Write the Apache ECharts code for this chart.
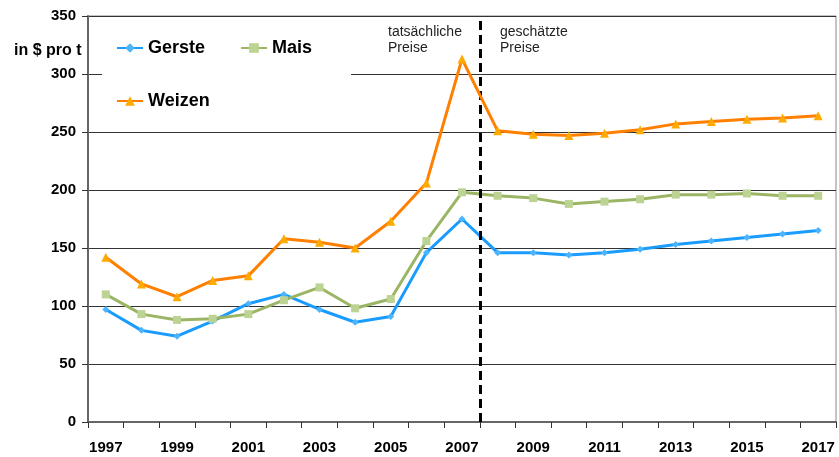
<!DOCTYPE html>
<html>
<head>
<meta charset="utf-8">
<script src="https://cdn.jsdelivr.net/npm/echarts@6/dist/echarts.min.js"></script>
<style>
  html, body { margin: 0; padding: 0; background: #fff; }
  #chart { width: 839px; height: 457px; }
</style>
</head>
<body>
<div id="chart"></div>
<script>
// Getreidepreise 1997-2017, in $ pro t
var years = ['1997','1998','1999','2000','2001','2002','2003','2004','2005','2006','2007',
             '2008','2009','2010','2011','2012','2013','2014','2015','2016','2017'];
var gerste = [97, 79, 74, 87, 102, 110, 97, 86, 91, 146, 175,
              146, 146, 144, 146, 149, 153, 156, 159, 162, 165];
var mais = [110, 93, 88, 89, 93, 105, 116, 98, 106, 156, 198,
            195, 193, 188, 190, 192, 196, 196, 197, 195, 195];
var weizen = [142, 119, 108, 122, 126, 158, 155, 150, 173, 206, 313,
              251, 248, 247, 249, 252, 257, 259, 261, 262, 264];
var yTicks = [0, 50, 100, 150, 200, 250, 300, 350];
var forecastStart = 11; // Grenze zwischen 2007 und 2008

var font = 'Liberation Sans, Arial, sans-serif';
var chart = echarts.init(document.getElementById('chart'), null, { renderer: 'canvas' });

var option = {
  backgroundColor: '#fff',
  animation: false,
  textStyle: { fontFamily: font },
  title: {
    text: 'in $ pro t',
    left: 9,
    top: 38,
    textStyle: { fontFamily: font, fontSize: 16, fontWeight: 'bold', color: '#000' }
  },
  legend: {
    data: ['Gerste', 'Mais', 'Weizen'],
    left: 102,
    top: 27,
    width: 215,
    padding: [12, 39, 12, 14],
    backgroundColor: '#fff',
    itemWidth: 26,
    itemHeight: 12,
    itemGap: 35,
    textStyle: { fontFamily: font, fontSize: 18, fontWeight: 'bold', color: '#000' }
  },
  grid: {
    left: 88, right: 3, top: 16, bottom: 35,
    show: true, borderColor: '#888', borderWidth: 1
  },
  xAxis: [{
    type: 'category',
    data: years,
    boundaryGap: true,
    axisLine: { lineStyle: { color: '#666', width: 2 } },
    axisTick: { show: true, interval: 0, length: 6, lineStyle: { color: '#333' } },
    axisLabel: { interval: 1, margin: 18, fontFamily: font, fontSize: 15, fontWeight: 'bold', color: '#000' }
  }, {
    type: 'value',
    min: 0,
    max: years.length,
    show: false
  }],
  yAxis: {
    type: 'value',
    min: yTicks[0],
    max: yTicks[yTicks.length - 1],
    interval: 50,
    axisLine: { show: true, lineStyle: { color: '#666', width: 2 } },
    axisTick: { show: true, length: 6, lineStyle: { color: '#333' } },
    axisLabel: { margin: 12, fontFamily: font, fontSize: 15, fontWeight: 'bold', color: '#000' },
    splitLine: { show: true, lineStyle: { color: '#333', width: 1 } }
  },
  graphic: [
    { type: 'text', left: 388, top: 24, style: { text: 'tatsächliche\nPreise', font: '14px ' + font, fill: '#222', lineHeight: 16 } },
    { type: 'text', left: 500, top: 24, style: { text: 'geschätzte\nPreise', font: '14px ' + font, fill: '#222', lineHeight: 16 } }
  ],
  series: [{
    name: 'Gerste',
    type: 'line',
    data: gerste,
    symbol: 'diamond',
    symbolSize: 7,
    lineStyle: { color: '#1a9cff', width: 3 },
    itemStyle: { color: '#4db5ff' },
    z: 3
  }, {
    name: 'Mais',
    type: 'line',
    data: mais,
    symbol: 'rect',
    symbolSize: 8,
    lineStyle: { color: '#9bb565', width: 3 },
    itemStyle: { color: '#bdd393' },
    z: 4
  }, {
    name: 'Weizen',
    type: 'line',
    data: weizen,
    symbol: 'triangle',
    symbolSize: 9,
    lineStyle: { color: '#ff8000', width: 3 },
    itemStyle: { color: '#ffaa00' },
    z: 5
  }, {
    name: 'Grenze',
    type: 'line',
    xAxisIndex: 1,
    data: [],
    markLine: {
      silent: true,
      symbol: 'none',
      label: { show: false },
      lineStyle: { color: '#000', width: 3, type: [9, 5] },
      data: [{ xAxis: forecastStart }]
    },
    z: 6
  }]
};
chart.setOption(option);
</script>
</body>
</html>
